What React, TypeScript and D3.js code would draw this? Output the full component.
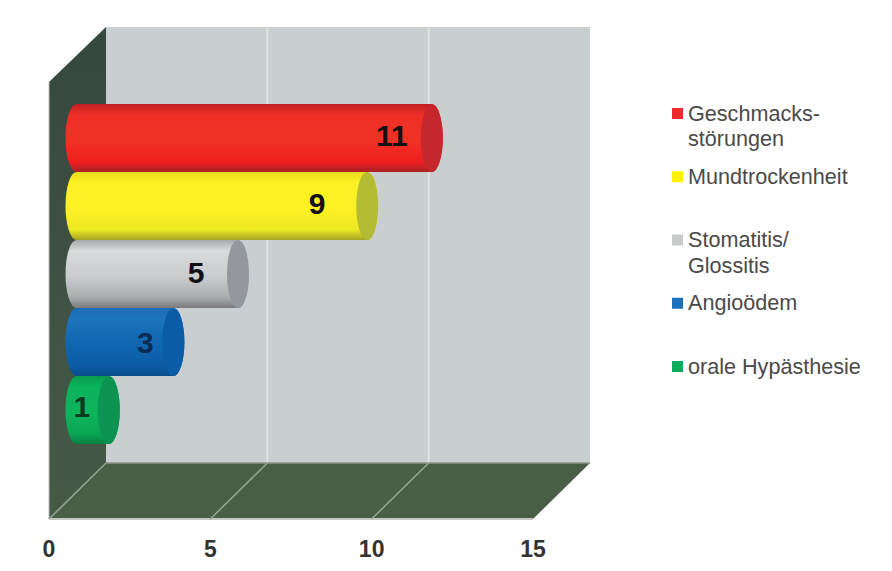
import React from "react";
import * as d3 from "d3";

const categories = ["Geschmacksstörungen", "Mundtrockenheit", "Stomatitis/Glossitis", "Angioödem", "orale Hypästhesie"];
const values = [11, 9, 5, 3, 1];
const axisTicks = [0, 5, 10, 15];
const legendLines = [["Geschmacks-", "störungen"], ["Mundtrockenheit"], ["Stomatitis/", "Glossitis"], ["Angioödem"], ["orale Hypästhesie"]];
const swatchColors = ["#ee2a2c", "#fff200", "#c8cacc", "#1b72bb", "#0bab5c"];
const capColors = ["#c5272c", "#b4bc33", "#94979b", "#0b5ca6", "#0d9351"];
const labelColors = ["#111", "#111", "#111", "#0a2c55", "#0a3a20"];
const gradientStops = [
  ["#bd1e22", "#ef2f27", "#ef3224", "#f01d20", "#a82226"],
  ["#e8dc20", "#fff123", "#fff023", "#ece822", "#a5a526"],
  ["#a6a8ab", "#d8dadc", "#c9cbcd", "#a9abad", "#77797b"],
  ["#1c6db5", "#1b74bc", "#0f66b0", "#0c5ba4", "#0a4d8c"],
  ["#0a9c50", "#0cb25c", "#0cb45c", "#0aa554", "#087f43"],
];
const labelInsets = [40, 50, 42, 28, 27];
const labelLifts = [3, 3, 2, 0, 4];

const WIDTH = 892;
const HEIGHT = 571;
const depthX = 57;
const frontX = d3.scaleLinear().domain([0, 15]).range([49, 533]);
const backX = (v: number) => frontX(v) + depthX;
const barX = d3.scaleLinear().domain([0, 15]).range([76.5, 561]);
const barY = d3.scaleBand().domain(categories).range([104, 444]);
const legendY = d3.scalePoint().domain(categories).range([113.5, 366.5]);

const wallTop = 27;
const wallBottom = 463;
const floorFront = 519;
const sideTop = 82;
const capRx = 11;
const sans = "'Liberation Sans', Arial, sans-serif";

// Cylinder silhouette: rounded far end on the left, convex cap on the right.
function cylinderPath(x0: number, x1: number, y0: number, y1: number) {
  const ry = (y1 - y0) / 2;
  return `M${x0},${y0} L${x1},${y0} A${capRx},${ry} 0 0 1 ${x1},${y1} L${x0},${y1} A${capRx},${ry} 0 0 1 ${x0},${y0} Z`;
}

export default function App() {
  return (
    <svg width={WIDTH} height={HEIGHT} style={{ position: "absolute", left: 0, top: 0, background: "#fff" }}>
      <defs>
        {categories.map((_, i) => (
          <linearGradient key={i} id={`bar-${i}`} x1="0" y1="0" x2="0" y2="1">
            {[0, 0.16, 0.55, 0.85, 1].map((o, k) => (
              <stop key={k} offset={o} stopColor={gradientStops[i][k]} />
            ))}
          </linearGradient>
        ))}
        <linearGradient id="side" x1="0" y1="0" x2="0" y2="1">
          <stop offset="0" stopColor="#35473f" />
          <stop offset="0.55" stopColor="#3f5244" />
          <stop offset="1" stopColor="#465a46" />
        </linearGradient>
      </defs>

      {/* back wall */}
      <rect x={backX(0)} y={wallTop} width={backX(15) - backX(0)} height={wallBottom - wallTop} fill="#c9ced0" />
      {axisTicks.slice(1, 3).map((t) => (
        <line key={t} x1={backX(t)} x2={backX(t)} y1={wallTop} y2={wallBottom} stroke="#e0e3e4" strokeWidth={2} />
      ))}

      {/* side wall */}
      <polygon
        points={`${frontX(0)},${sideTop} ${backX(0)},${wallTop} ${backX(0)},${wallBottom} ${frontX(0)},${floorFront}`}
        fill="url(#side)"
      />
      <line x1={frontX(0)} x2={frontX(0)} y1={sideTop} y2={floorFront} stroke="#b9bfbb" strokeWidth={1} />

      {/* floor */}
      <polygon
        points={`${backX(0)},${wallBottom} ${backX(15)},${wallBottom} ${frontX(15)},${floorFront} ${frontX(0)},${floorFront}`}
        fill="#4a5e47"
      />
      <line x1={backX(0)} x2={backX(15)} y1={wallBottom} y2={wallBottom} stroke="#8b958a" strokeWidth={1.5} />
      <line x1={frontX(0)} x2={frontX(15)} y1={floorFront} y2={floorFront} stroke="#c3c9c0" strokeWidth={2} />
      {axisTicks.slice(0, 3).map((t) => (
        <line key={t} x1={backX(t)} x2={frontX(t)} y1={wallBottom} y2={floorFront} stroke="#93a490" strokeWidth={1.6} />
      ))}

      {/* cylinders */}
      {categories.map((c, i) => {
        const x0 = barX(0);
        const x1 = barX(values[i]);
        const y0 = barY(c)!;
        const y1 = y0 + barY.bandwidth();
        const cy = (y0 + y1) / 2;
        return (
          <g key={c}>
            <path d={cylinderPath(x0, x1, y0, y1)} fill={`url(#bar-${i})`} />
            <ellipse cx={x1} cy={cy} rx={capRx} ry={(y1 - y0) / 2} fill={capColors[i]} />
            <text
              x={x1 - labelInsets[i]}
              y={cy + 11 - labelLifts[i]}
              textAnchor="middle"
              fontFamily={sans}
              fontWeight="bold"
              fontSize={30}
              fill={labelColors[i]}
            >
              {values[i]}
            </text>
          </g>
        );
      })}

      {/* value axis */}
      {axisTicks.map((t) => (
        <text key={t} x={frontX(t)} y={557} textAnchor="middle" fontFamily={sans} fontWeight="bold" fontSize={23} fill="#333">
          {t}
        </text>
      ))}

      {/* legend */}
      {categories.map((c, i) => {
        const y = legendY(c)!;
        return (
          <g key={c}>
            <rect x={672} y={y - 5.5} width={11} height={11} fill={swatchColors[i]} />
            {legendLines[i].map((line, k) => (
              <text key={k} x={688} y={y + 7 + k * 25.5} fontFamily={sans} fontSize={21.6} fill="#4a4a4a">
                {line}
              </text>
            ))}
          </g>
        );
      })}
    </svg>
  );
}
